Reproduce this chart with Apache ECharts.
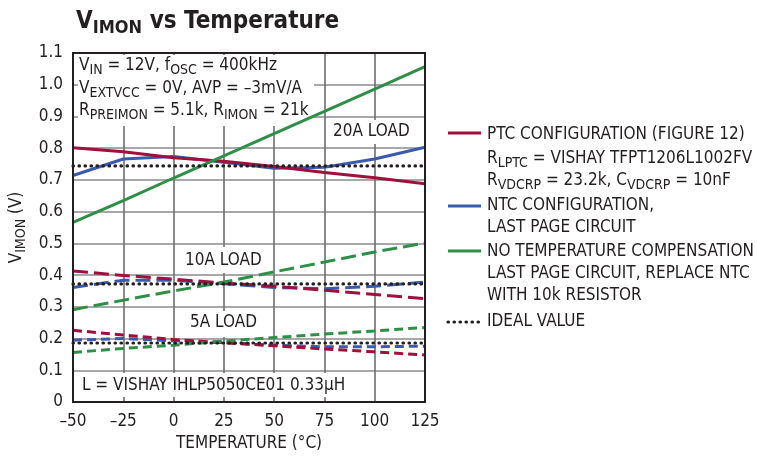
<!DOCTYPE html>
<html><head><meta charset="utf-8">
<script src="https://cdn.jsdelivr.net/npm/echarts@6/dist/echarts.min.js"></script>
<style>html,body{margin:0;padding:0;background:#fff}#c{width:757px;height:462px}</style>
</head><body><div id="c"></div>
<script>
// ---- data ----
const temps = [-50, -25, 0, 25, 50, 75, 100, 125];
const yTicks = ['0','0.1','0.2','0.3','0.4','0.5','0.6','0.7','0.8','0.9','1.0','1.1'];
const ptc20 = [0.801, 0.789, 0.770, 0.759, 0.742, 0.723, 0.707, 0.688];
const ntc20 = [0.714, 0.766, 0.774, 0.756, 0.737, 0.740, 0.766, 0.803];
const nc20  = [0.566, 0.635, 0.706, 0.776, 0.846, 0.916, 0.986, 1.057];
const ideal20 = [0.744, 0.744, 0.744, 0.744, 0.744, 0.744, 0.744, 0.744];
const ptc10 = [0.413, 0.399, 0.387, 0.375, 0.365, 0.352, 0.339, 0.326];
const ntc10 = [0.361, 0.384, 0.384, 0.373, 0.361, 0.357, 0.365, 0.378];
const nc10  = [0.291, 0.321, 0.350, 0.378, 0.410, 0.441, 0.473, 0.501];
const ideal10 = [0.372, 0.372, 0.372, 0.372, 0.372, 0.372, 0.372, 0.372];
const ptc5  = [0.226, 0.211, 0.197, 0.187, 0.177, 0.167, 0.158, 0.148];
const ntc5  = [0.195, 0.200, 0.193, 0.187, 0.179, 0.174, 0.174, 0.176];
const nc5   = [0.156, 0.169, 0.179, 0.192, 0.203, 0.214, 0.224, 0.235];
const ideal5 = [0.186, 0.186, 0.186, 0.186, 0.186, 0.186, 0.186, 0.186];

// ---- styles ----
const F = '"Liberation Sans Narrow","DejaVu Sans Condensed","Roboto Condensed",sans-serif';
const INK = '#231f20';
const C_PTC = '#a0103c', C_NTC = '#3c5aad', C_NC = '#2f8f48';
const LONG = [15, 6], SHORT = [9, 5], DOT = [0.5, 5.5];

const pairs = v => temps.map((t, i) => [t, v[i]]);
function line(name, v, color, dash, width, z) {
  return {
    name, type: 'line', data: pairs(v), symbol: 'none', silent: true, z: z || 3,
    lineStyle: { color, width: width || 3, type: dash || 'solid', cap: dash === DOT ? 'round' : 'butt' }
  };
}
const rich = {
  s: { fontSize: 14, lineHeight: 3, verticalAlign: 'bottom', fontFamily: F, fill: INK, color: INK }
};
function txt(x, y, text, extra) {
  return Object.assign({
    type: 'text', x, y, z: 5,
    style: Object.assign({ text, font: '17px ' + F, fill: INK, lineHeight: 23, textVerticalAlign: 'middle', rich }, extra || {})
  });
}
function box(x, y, w, h) {
  return { type: 'rect', shape: { x, y, width: w, height: h }, style: { fill: '#fff' }, z: 1, silent: true };
}
function seg(y, color, dash) {
  return { type: 'line', shape: { x1: 448, y1: y, x2: 481, y2: y }, z: 5,
    style: { stroke: color, lineWidth: dash ? 3.2 : 3, lineDash: dash || null, lineCap: dash ? 'round' : 'butt' } };
}

const chart = echarts.init(document.getElementById('c'), null, { renderer: 'canvas' });
chart.setOption({
  animation: false,
  backgroundColor: '#fff',
  grid: { left: 73, right: 332, top: 53, bottom: 60, show: true, borderColor: INK, borderWidth: 2, z: 4 },
  xAxis: {
    type: 'value', min: -50, max: 125, interval: 25,
    axisLine: { show: false }, axisTick: { show: false },
    splitLine: { show: true, lineStyle: { color: '#6e6e6e', width: 1.6 } },
    axisLabel: { margin: 11, fontSize: 17, fontFamily: F, color: INK,
      formatter: v => (v < 0 ? '\u2013' + Math.abs(v) : String(v)) },
    name: 'TEMPERATURE (°C)', nameLocation: 'middle', nameGap: 30,
    nameTextStyle: { fontSize: 17, fontFamily: F, color: INK }
  },
  yAxis: {
    type: 'value', min: 0, max: 1.1, interval: 0.1,
    axisLine: { show: false }, axisTick: { show: false },
    splitLine: { show: true, lineStyle: { color: '#a8a8a8', width: 1.8 } },
    axisLabel: { margin: 10, fontSize: 17, fontFamily: F, color: INK,
      formatter: v => yTicks[Math.round(v * 10)] },
    name: '{m|V}{s|IMON}{m| (V)}', nameLocation: 'middle', nameGap: 45, nameRotate: 90,
    nameTextStyle: { fontSize: 17, fontFamily: F, color: INK,
      rich: { m: { fontSize: 17, fontFamily: F, color: INK, lineHeight: 23 },
              s: { fontSize: 14, fontFamily: F, color: INK, lineHeight: 3, verticalAlign: 'bottom' } } }
  },
  series: [
    line('NTC 20A', ntc20, C_NTC), line('PTC 20A', ptc20, C_PTC), line('NC 20A', nc20, C_NC),
    line('NTC 10A', ntc10, C_NTC, LONG), line('PTC 10A', ptc10, C_PTC, LONG), line('NC 10A', nc10, C_NC, LONG),
    line('NTC 5A', ntc5, C_NTC, SHORT), line('PTC 5A', ptc5, C_PTC, SHORT), line('NC 5A', nc5, C_NC, SHORT),
    line('Ideal 20A', ideal20, INK, DOT, 3.2, 6), line('Ideal 10A', ideal10, INK, DOT, 3.2, 6),
    line('Ideal 5A', ideal5, INK, DOT, 3.2, 6)
  ],
  graphic: [
    // title
    { type: 'text', x: 76, y: 22, z: 5, style: { text: 'V{t|IMON} vs Temperature', font: 'bold 24px ' + F, fill: INK, lineHeight: 31,
      textVerticalAlign: 'middle', rich: { t: { fontSize: 18, fontWeight: 'bold', fontFamily: F, lineHeight: 2, verticalAlign: 'bottom', fill: INK } } } },
    // annotation boxes
    box(78, 55, 236, 71),
    txt(79, 66, 'V{s|IN} = 12V, f{s|OSC} = 400kHz'),
    txt(79, 89, 'V{s|EXTVCC} = 0V, AVP = \u20133mV/A'),
    txt(79, 111, 'R{s|PREIMON} = 5.1k, R{s|IMON} = 21k'),
    box(328, 120, 86, 24),
    txt(333, 132, '20A LOAD'),
    box(181, 247, 84, 26),
    txt(185, 261, '10A LOAD'),
    box(186, 311, 76, 26),
    txt(190, 323, '5A LOAD'),
    box(78, 373, 292, 24),
    txt(82, 386, 'L = VISHAY IHLP5050CE01 0.33\u03bcH'),
    // legend
    seg(133, C_PTC), seg(206, C_NTC), seg(251, C_NC), seg(322, INK, [0.5, 5.5]),
    txt(487, 135, 'PTC CONFIGURATION (FIGURE 12)'),
    txt(487, 159, 'R{s|LPTC} = VISHAY TFPT1206L1002FV'),
    txt(487, 181, 'R{s|VDCRP} = 23.2k, C{s|VDCRP} = 10nF'),
    txt(487, 206, 'NTC CONFIGURATION,'),
    txt(487, 228, 'LAST PAGE CIRCUIT'),
    txt(487, 252, 'NO TEMPERATURE COMPENSATION'),
    txt(487, 274, 'LAST PAGE CIRCUIT, REPLACE NTC'),
    txt(487, 296, 'WITH 10k RESISTOR'),
    txt(487, 322, 'IDEAL VALUE')
  ]
});
</script></body></html>
